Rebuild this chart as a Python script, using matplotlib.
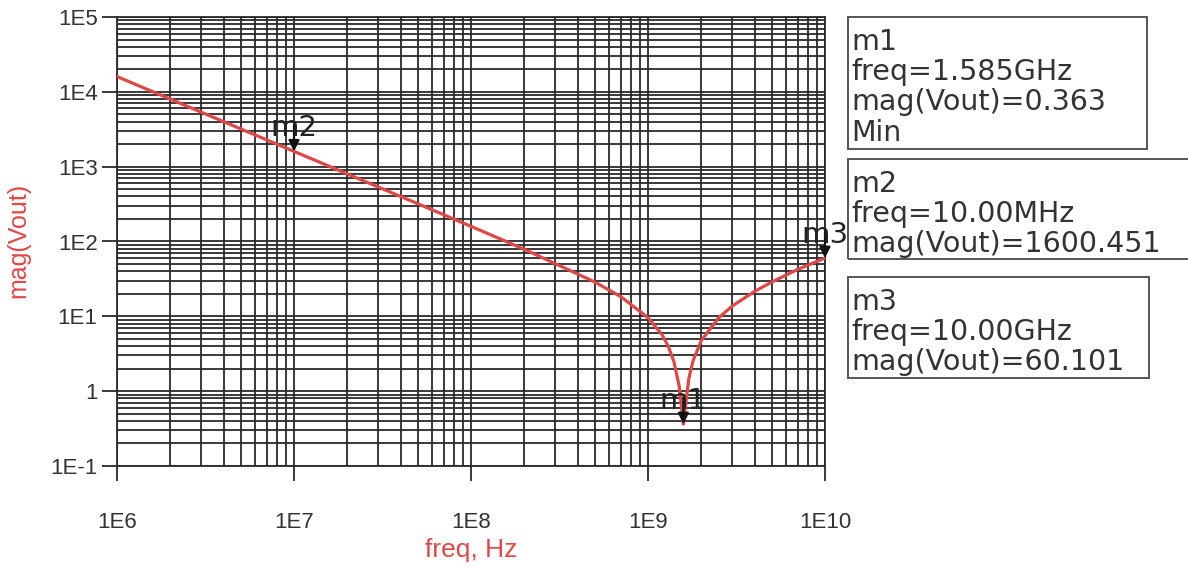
import numpy as np
import matplotlib
matplotlib.use('Agg')
import matplotlib.pyplot as plt
from matplotlib.ticker import LogLocator, NullFormatter
from matplotlib.patches import Rectangle

# curve (freq in Hz, mag(Vout))
freq = [1e6, 2e6, 5e6, 1e7, 2e7, 5e7, 1e8, 2e8, 5e8, 7e8, 1e9, 1.2e9, 1.3e9,
        1.4e9, 1.5e9, 1.55e9, 1.57e9, 1.585e9, 1.6e9, 1.62e9, 1.7e9, 1.8e9,
        2e9, 2.5e9, 3e9, 4e9, 5e9, 7e9, 1e10]
mag = [16000, 8000, 3200, 1600, 800, 320, 159.4, 78.7, 28.8, 18.4, 9.6, 5.7, 4.0,
       2.5, 1.17, 0.59, 0.41, 0.363, 0.435, 0.57, 1.47, 2.58,
       4.74, 9.5, 13.8, 21.5, 28.7, 42.3, 60.1]

marker_names = ['m1', 'm2', 'm3']
marker_freq = [1.585e9, 1e7, 1e10]
marker_mag = [0.363, 1600.451, 60.101]
marker_freq_text = ['1.585GHz', '10.00MHz', '10.00GHz']
marker_extra = ['Min', '', '']

xticks = [1e6, 1e7, 1e8, 1e9, 1e10]
xtick_labels = ['1E6', '1E7', '1E8', '1E9', '1E10']
yticks = [1e-1, 1, 1e1, 1e2, 1e3, 1e4, 1e5]
ytick_labels = ['1E-1', '1', '1E1', '1E2', '1E3', '1E4', '1E5']

W, H = 1188, 567
red = '#e04848'
dark = '#2a2a2a'

fig = plt.figure(figsize=(W/100, H/100), dpi=100)
ax = fig.add_axes([117/W, 1-466/H, (825-117)/W, (466-17)/H])

ax.plot(freq, mag, color=red, lw=2.3, zorder=3)
ax.set_xscale('log')
ax.set_yscale('log')
ax.set_xlim(1e6, 1e10)
ax.set_ylim(1e-1, 1e5)

ax.set_xticks(xticks, xtick_labels)
ax.set_yticks(yticks, ytick_labels)
ax.xaxis.set_minor_locator(LogLocator(base=10, subs=np.arange(2, 10), numticks=100))
ax.yaxis.set_minor_locator(LogLocator(base=10, subs=np.arange(2, 10), numticks=100))
ax.xaxis.set_minor_formatter(NullFormatter())
ax.yaxis.set_minor_formatter(NullFormatter())
ax.grid(which='both', color=dark, lw=1.3)
ax.tick_params(which='major', length=11, width=1.3, color=dark, labelsize=16,
               labelcolor='#333333', pad=3)
ax.tick_params(which='minor', length=0)
for lab in ax.get_xticklabels() + ax.get_yticklabels():
    lab.set_family('Liberation Sans')
ax.tick_params(axis='x', pad=22)
for s in ax.spines.values():
    s.set_color(dark)
    s.set_linewidth(1.3)

# marker arrows and labels
for name, f, m in zip(marker_names, marker_freq, marker_mag):
    ax.annotate('', xy=(f, m), xytext=(0, 26), textcoords='offset pixels',
                arrowprops=dict(arrowstyle='-|>', color='#111111', lw=1.6,
                                mutation_scale=16, shrinkA=0, shrinkB=0),
                annotation_clip=False, zorder=5)
    ax.annotate(name, xy=(f, m), xytext=(0, 9), textcoords='offset pixels',
                ha='center', va='bottom', fontsize=21, color='#222222',
                family='DejaVu Sans', annotation_clip=False, zorder=6)

# axis labels
fig.text(471/W, 1-550/H, 'freq, Hz', color=red, fontsize=19, family='Liberation Sans',
         ha='center', va='center')
fig.text(18/W, 1-240/H, 'mag(Vout)', color=red, fontsize=18, family='Liberation Sans',
         ha='center', va='center', rotation=90)

# marker readout boxes
boxes = [(848, 17, 1147, 149), (848, 159, 1200, 259), (848, 277, 1149, 378)]
for (x0, y0, x1, y1), name, ft, m, extra in zip(boxes, marker_names, marker_freq_text,
                                                 marker_mag, marker_extra):
    fig.patches.append(Rectangle((x0/W, 1-y1/H), (x1-x0)/W, (y1-y0)/H,
                                 transform=fig.transFigure, fill=False,
                                 edgecolor='#555555', lw=1.4))
    lines = [name, 'freq=' + ft, 'mag(Vout)=%s' % ('%.3f' % m)]
    if extra:
        lines.append(extra)
    fig.text(851/W, 1-(y0+11)/H, '\n'.join(lines), fontsize=20.5, family='DejaVu Sans',
             color='#333333', ha='left', va='top', linespacing=1.1)

fig.savefig('out.png', dpi=100)
